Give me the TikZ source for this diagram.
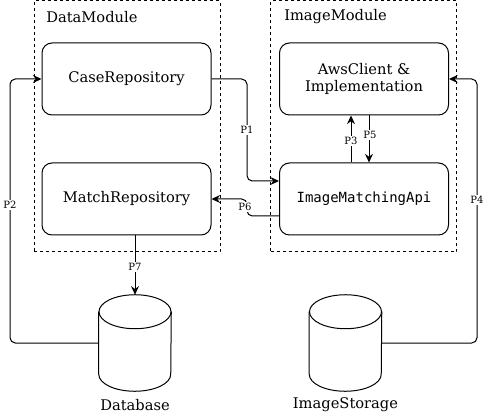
\documentclass[tikz,border=0pt]{standalone}
\usepackage{fontspec}
\setmainfont{DejaVu Serif}
\newfontfamily\apifont{DejaVu Sans Mono}
\usetikzlibrary{arrows.meta}

\begin{document}
\begin{tikzpicture}[
  x=0.75pt,y=-0.75pt,
  modbox/.style={draw, line width=0.75pt, dash pattern=on 2.25pt off 2.25pt, minimum width=139.5pt, minimum height=188.25pt, inner sep=0pt},
  modlabel/.style={anchor=west, font=\fontsize{11}{13}\selectfont, inner sep=0pt},
  compbox/.style={draw, rounded corners=7.5pt, line width=0.75pt, align=center, font=\fontsize{11}{13}\selectfont, minimum width=126.75pt, minimum height=54pt, inner sep=2pt},
  store/.style={minimum width=54pt, minimum height=72pt, inner sep=0pt},
  storeline/.style={line width=0.75pt},
  storelabel/.style={font=\fontsize{11}{13}\selectfont, inner sep=0pt},
  flow/.style={-{Stealth[length=6.5pt,width=6pt,inset=2.2pt]}, line width=0.75pt, rounded corners=4pt},
  plabel/.style={fill=white, font=\fontsize{7.5}{9}\selectfont, inner sep=1pt}
]
\useasboundingbox (0,0) rectangle (488,416);

% modules
\node[modbox] (datamod) at (127,126.5) {};
\node[modbox] (imgmod) at (363.5,126.5) {};
\node[modlabel] (datalbl) at (46,17) {DataModule};
\node[modlabel] (imglbl) at (284,17) {ImageModule};

% components
\node[compbox] (case) at (126.5,79) {CaseRepository};
\node[compbox] (match) at (126.5,199) {MatchRepository};
\node[compbox] (aws) at (364,79) {AwsClient \&\\Implementation};
\node[compbox, font=\apifont\fontsize{10.5}{13}\selectfont] (api) at (364,199) {ImageMatchingApi};

% storage
\node[store] (db) at (135,343) {};
\node[store] (imgstore) at (345.5,343) {};
\foreach \c in {db,imgstore} {
  \draw[storeline] ([yshift=-12.75pt]\c.north) ellipse [x radius=27pt, y radius=12.75pt];
  \draw[storeline] ([yshift=-12.75pt]\c.north west) -- ([yshift=12.75pt]\c.south west)
    arc [start angle=180, end angle=360, x radius=27pt, y radius=12.75pt] -- ([yshift=-12.75pt]\c.north east);
}
\node[storelabel] (dblbl) at (135,405) {Database};
\node[storelabel] (storelbl) at (345.5,405) {ImageStorage};

% connectors
\draw[flow] (case.east) -- (247,79) -- (247,181) -- (api.west |- 0,181);
\node[plabel] (p1) at (247,130) {P1};
\draw[flow] (db.west) -- (10,343) -- (10,79) -- (case.west);
\node[plabel] (p2) at (10,205) {P2};
\draw[flow] (api.north -| 351,0) -- (aws.south -| 351,0);
\node[plabel] (p3) at (351,141) {P3};
\draw[flow] (imgstore.east) -- (477,343) -- (477,79) -- (aws.east);
\node[plabel] (p4) at (477,200) {P4};
\draw[flow] (aws.south -| 369,0) -- (api.north -| 369,0);
\node[plabel] (p5) at (370,135) {P5};
\draw[flow] (api.west |- 0,216) -- (247,216) -- (247,199) -- (match.east);
\node[plabel] (p6) at (245,207) {P6};
\draw[flow] (match.south -| db.north) -- (db.north);
\node[plabel] (p7) at (135,267) {P7};
\end{tikzpicture}
\end{document}
